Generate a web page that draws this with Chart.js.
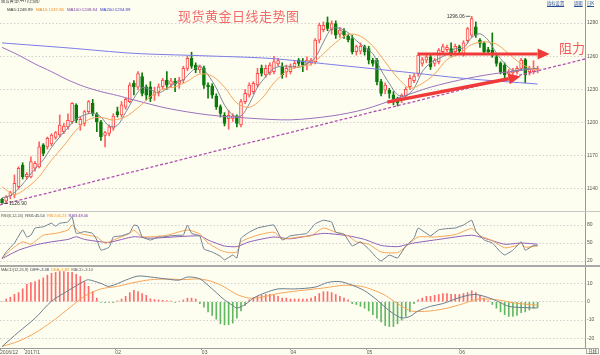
<!DOCTYPE html>
<html lang="zh-CN"><head><meta charset="utf-8">
<title>现货黄金日线走势图</title>
<script src="https://cdn.jsdelivr.net/npm/chart.js@4.4.1/dist/chart.umd.min.js"></script>
<style>
html,body{margin:0;padding:0;background:#fefef0;}
#wrap{position:relative;width:600px;height:355px;overflow:hidden;background:#fefef0;font-family:"Liberation Sans","Noto Sans CJK SC",sans-serif;}
#wrap canvas{position:absolute;left:0;}
.tx{position:absolute;white-space:nowrap;font-size:4.3px;line-height:5px;color:#444;}
.leg{position:absolute;white-space:nowrap;font-size:4.1px;line-height:5px;color:#444;letter-spacing:-0.1px;}
.leg span{margin-right:2.2px;}
.cjk{font-family:"Noto Sans CJK SC",sans-serif;}
.sep{position:absolute;left:0;width:600px;}
.lnk{position:absolute;white-space:nowrap;font-size:4.3px;line-height:5px;color:#2a4f9a;text-decoration:underline;font-family:"Noto Sans CJK SC",sans-serif;}
</style></head>
<body>
<div id="wrap">
  <canvas id="cMain" width="600" height="212" style="top:0;width:600px;height:212px"></canvas>
  <canvas id="cRsi" width="600" height="54" style="top:212px;width:600px;height:54px"></canvas>
  <canvas id="cMacd" width="600" height="89" style="top:266px;width:600px;height:89px"></canvas>

  <div class="sep" style="top:211px;height:1px;background:#c6c6c6"></div>
  <div class="sep" style="top:265px;height:2px;background:#a9a9a9"></div>

  <div class="tx cjk" style="left:1px;top:-2px;color:#333">现货黄金(447)(日线)</div>
  <div class="tx" style="left:7px;top:7px;color:#333">MA5:1248.99</div>
  <div class="tx" style="left:36px;top:7px;color:#f0891c">MA10:1247.86</div>
  <div class="tx" style="left:67px;top:7px;color:#7a3fa0">MA100:1248.84</div>
  <div class="tx" style="left:100px;top:7px;color:#3838c8">MA200:1234.89</div>

  <div class="lnk" style="left:547px;top:1px">指标设置</div>
  <div class="lnk" style="left:574px;top:1px">周期</div>
  <div class="lnk" style="left:587px;top:1px">日K</div>

  <div class="cjk" style="position:absolute;left:178px;top:8px;font-size:13px;line-height:15px;letter-spacing:0.5px;color:#f26a6a;white-space:nowrap">现货黄金日线走势图</div>
  <div class="cjk" style="position:absolute;left:559px;top:40px;font-size:13px;line-height:15px;color:#f25a5a;white-space:nowrap">阻力</div>

  <div class="leg" style="left:1px;top:213px"><span style="color:#555">RSI(6,12,24)</span><span style="color:#33405a">RSI1:45.54</span><span style="color:#f0951f">RSI2:45.23</span><span style="color:#7a40aa">RSI3:48.06</span></div>

  <div class="leg" style="left:1px;top:267px"><span style="color:#555">MACD(12,26,9)</span><span style="color:#33405a">DIFF:-3.38</span><span style="color:#f0951f">DEA:-1.83</span><span style="color:#666">MACD:-3.10</span></div>

  <div class="tx cjk" style="left:586px;top:348px;width:13px;height:6px;border:1px solid #aaa;box-sizing:border-box;text-align:center;line-height:5px;color:#444">日线</div>
</div>

<script>
// ---------- data ----------
const monthTickPos = [-0.5, 5.5, 27.5, 48.5, 70, 88.5, 111];
const monthTickLabels = ['2016/12', '2017/1', '02', '03', '04', '05', '06'];
const priceTicks = [1140, 1170, 1200, 1230, 1260, 1290];
const rsiTicks = [20, 50, 80];
const macdTicks = [-20, -10, 0, 10];

const opens = [1130.7,1129,1133.7,1134.6,1142.1,1161.7,1151.2,1151,1158.7,1160,
 1179.8,1178,1180.7,1186.7,1188.8,1191.8,1196,1200.8,1215.9,1198,
 1199.3,1209.9,1217.4,1207.8,1200.8,1188.5,1190.2,1195,1210,1207,
 1214,1219,1235.5,1232,1241.5,1232.4,1232.4,1224.9,1227.9,1232.4,
 1238.4,1234.8,1237.5,1235.5,1238.4,1249,1258,1252,1247.5,1249,
 1233.9,1233,1224,1214.4,1206.8,1203.5,1203.8,1205.9,1197.8,1218.9,
 1224.9,1228,1234,1249,1243,1245,1246,1253,1250.5,1245.9,
 1246,1250.5,1256.5,1255.9,1253.5,1254,1255,1274.6,1284,1290.3,
 1284,1289.6,1280,1283,1278,1276,1264,1264.5,1268.6,1267,
 1256.5,1256.5,1237,1229.4,1229.4,1225,1221.9,1220.4,1224,1232.4,
 1238,1244.5,1253.5,1256.5,1259.5,1253.5,1255,1264,1266,1267,
 1264,1268.6,1262,1274,1279,1286.6,1274.6,1271.6,1266,1265.6,
 1259.5,1253.5,1252,1244,1245,1246,1249,1257,1246,1246,
 1248];
const highs = [1131.5,1134,1138,1152.7,1160.1,1163.7,1155,1169,1165,1182.6,
 1181,1187,1190,1192,1206.9,1199,1208,1218,1217,1205,
 1211,1220,1221,1209,1202,1192,1198,1208,1214,1219,
 1222,1236,1238,1246,1245,1234,1237,1232,1235,1240,
 1246,1240,1240,1241,1251,1260,1263.6,1254,1252,1251,
 1236,1235,1226,1216,1209,1211,1208,1207,1221,1230,
 1236,1237,1249,1252,1252,1254,1260,1258,1254,1252,
 1253,1256,1258,1258,1259.5,1258,1276,1290,1291,1295.5,
 1292,1292,1286,1285,1280,1279,1270,1272,1270,1269,
 1258,1258,1239,1236,1231,1228,1223,1226,1232,1243,
 1244,1263,1259,1262,1262,1258,1267,1271,1270,1272,
 1271,1270,1274,1286,1296.06,1291,1276,1273,1268,1281,
 1262,1255,1254,1248,1249,1251,1258,1258,1251,1256,
 1251];
const lows = [1126.9,1127,1131,1132,1140,1149,1149,1150,1156,1159,
 1170,1176,1179,1185,1187,1190,1194,1199,1200,1193,
 1197,1208,1206,1191.8,1184,1178,1188,1193,1205,1205,
 1212,1218,1225,1230,1224,1220.4,1218.9,1220,1224,1230,
 1230,1232,1228,1231,1236,1247,1249,1245,1245,1231,
 1222,1222,1212,1205,1197,1194,1201,1196,1196,1217,
 1223,1226,1232,1242,1241,1243,1244,1251,1240,1241,
 1244,1249,1251,1246,1247.5,1252,1253,1272,1282,1283,
 1280,1276,1277,1276,1273,1262,1261,1262,1261,1253,
 1251,1234,1224,1226,1222,1216,1215,1218,1222,1230,
 1236,1242,1251,1254,1248,1251,1253,1262,1264,1260,
 1262,1263,1260,1272,1277,1277,1268,1262,1262,1259,
 1251,1244,1240,1241,1243,1244,1247,1236,1243,1244,
 1245];
const closes = [1127.7,1133,1136.7,1145.1,1158.7,1151.2,1153.3,1164.7,1163.2,1178.2,
 1172.2,1185.8,1188.8,1190.9,1197.8,1196.8,1202,1217.4,1202.3,1203,
 1209.9,1218.9,1208.4,1200.8,1187.3,1190.9,1196.2,1206,1207,1216,
 1221,1234,1232.2,1244.3,1226.4,1224.9,1221.9,1227.9,1232.4,1238.4,
 1233.9,1237.8,1234.8,1238.4,1249,1258,1251.1,1247.5,1250.5,1233.9,
 1232.4,1224.9,1214.4,1208.4,1199.3,1206.5,1205.9,1199.3,1218.9,1226.4,
 1234,1235.5,1244.5,1244.5,1249,1252,1255,1256,1243,1249,
 1250.5,1253.5,1253.5,1252,1256.5,1256.5,1274.6,1288.1,1288,1285.1,
 1289.6,1279.1,1283.6,1279.1,1275,1264,1268.6,1269,1264,1256.5,
 1253.5,1237,1226.4,1233.9,1226.4,1221,1218,1224.9,1230,1240,
 1242,1261,1257,1259.5,1250.5,1256.5,1265.6,1268.6,1268,1262.6,
 1269,1265,1272,1285,1294,1279.1,1271.6,1264,1264,1261,
 1253.5,1246,1243,1245.5,1247,1249,1256.5,1243,1249,1248,
 1249];

// moving averages read at sample candles: [candle index, value]
const ma5 = [[0,1132],[2,1134],[4,1140.2],[6,1149],[8,1158.2],[10,1166.3],[12,1177.6],[14,1187.1],[16,1195.3],[18,1203.3],[20,1206.9],[22,1208.5],[24,1205.1],[26,1196.7],[28,1197.5],[30,1209.2],[32,1222],[34,1231.6],[36,1229.9],[38,1226.7],[40,1230.9],[42,1235.5],[44,1238.8],[46,1246.3],[48,1251.2],[50,1243.1],[52,1231.2],[54,1215.9],[56,1206.9],[58,1206],[60,1216.9],[62,1231.9],[64,1241.5],[66,1249],[68,1251],[70,1250.7],[72,1249.9],[74,1253.2],[76,1258.6],[78,1272.7],[80,1285.1],[82,1285.1],[84,1281.3],[86,1274.1],[88,1268.1],[90,1262.3],[92,1247.5],[94,1235.4],[96,1225.1],[98,1224.1],[100,1231],[102,1246],[104,1254],[106,1257.8],[108,1261.8],[110,1266.8],[112,1267.3],[114,1277],[116,1280.3],[118,1274.5],[120,1262.8],[122,1253.5],[124,1247],[126,1248.2],[128,1248.9],[130,1248.99]];
const ma10 = [[0,1142],[3,1135],[6,1141],[9,1151.2],[12,1166.1],[15,1179.2],[18,1193.2],[21,1202.8],[24,1204.7],[27,1202.4],[30,1205.3],[33,1213.5],[36,1223.4],[39,1230.3],[42,1232.3],[45,1237.3],[48,1243.9],[51,1242.1],[54,1232],[57,1217.6],[60,1213.8],[63,1221.5],[66,1235.9],[69,1246.3],[72,1250.6],[75,1252.6],[78,1262.2],[81,1272.3],[84,1279.9],[87,1278.1],[90,1269.2],[93,1254.8],[96,1240.6],[99,1231.1],[102,1235.4],[105,1243.9],[108,1256.9],[111,1262.2],[114,1270.6],[117,1273],[120,1270.9],[123,1262.2],[126,1253],[129,1248.1],[130,1247.86]];
const ma100 = [[0,1268],[4,1261],[8,1253],[12,1246],[16,1238.5],[20,1232.5],[24,1228],[28,1224.5],[32,1220.5],[40,1213],[50,1207],[60,1204],[70,1202.5],[80,1206],[88,1212],[96,1222],[104,1232],[113,1240],[121,1245],[130,1248.84]];
const ma200 = [[0,1272],[16,1267.5],[32,1262.6],[48,1260.5],[65,1258],[80,1252.5],[97,1246],[112,1240],[130,1234.89]];

// drawn lines: support trend line and the two red arrows ([candle index, price])
const trendLine = [[-0.5,1125.6],[141.5,1257.5]];
const arrowResist = [[101,1262],[130,1262]];
const arrowSupport = [[93.5,1218.5],[123,1239.6]];
const markIdx = [114, 0];
const markVal = [1296.06, 1126.90];
const markText = ['1296.06', '1126.90'];

// RSI(6,12,24)
const rsi1 = [[0,24.5],[1,35],[3,50],[5,72],[6,60],[7,63],[8,75],[10,77],[12,83],[13,78],[14,83],[16,85],[17,94],[18,66],[20,69],[22,66],[23,55],[24,38],[26,43],[27,60],[29,62],[31,67],[32,80],[33,78],[34,60],[36,55],[38,60],[39,60],[41,62],[43,63],[44,63],[45,80],[46,66],[48,62],[49,40],[51,35],[53,28],[54,22],[56,30],[57,25],[58,58],[60,68],[62,75],[64,78],[66,80],[68,55],[70,62],[72,64],[74,66],[76,82],[78,88],[80,85],[81,68],[83,65],[85,45],[87,52],[89,40],[91,25],[92,20],[94,30],[96,25],[98,45],[100,58],[101,75],[104,62],[106,72],[108,74],[110,75],[112,80],[114,88],[115,70],[117,55],[119,50],[121,35],[122,30],[124,38],[126,52],[127,38],[129,46],[130,45.54]];
const rsi2 = [[0,24],[2,38],[5,52],[7,48],[10,63],[13,66],[16,71.7],[17,80],[19,66],[23,60],[25,49.5],[27,55],[31,66],[32,71.7],[34,60.5],[40,63],[45,71.7],[48,65],[50,50],[53,38],[55,34],[57,35],[58,52],[62,63],[66,68],[68,57],[72,60],[75,62],[78,75],[81,68],[84,62],[86,52],[89,48],[92,35],[96,34],[98,44],[101,60],[105,60],[110,64],[114,74],[116,62],[119,54],[122,42],[125,46],[126,50],[127,43],[130,45.23]];
const rsi3 = [[0,24],[4,38],[8,46.7],[12,52],[16,56],[18,60.5],[20,56],[24,52],[26,51],[32,60.5],[36,58],[48,62],[50,55],[54,45],[57,44],[60,52],[66,60],[70,57],[78,66],[84,62],[88,56],[92,46],[96,44],[100,50],[106,56],[114,63],[118,56],[122,48],[126,50],[130,48.06]];

// MACD(12,26,9)
const diff = [[0,-24.4],[4,-16.5],[8,-9],[12,0.3],[16,6],[20,11.3],[21,12],[24,10],[26,8.4],[30,11.8],[33,14],[36,13.5],[40,12.4],[43,11.8],[45,13.5],[48,12.5],[50,9],[52,5],[54,1],[56,-2],[57,-3.4],[59,-1.5],[61,2],[64,5],[67,7],[71,7],[76,8],[79,10.5],[82,11],[85,9],[88,6],[91,1],[93,-3],[95,-6.5],[97,-8.8],[99,-8],[101,-5],[104,-2.5],[107,-1],[110,1.5],[113,3.5],[115,4],[117,3],[119,1.5],[121,-0.5],[123,-2.5],[125,-3],[127,-3.2],[130,-3.38]];
const dea = [[0,-24.4],[4,-21.5],[8,-17],[12,-11],[16,-4],[20,3],[24,7],[28,8.4],[32,10.5],[36,12],[40,12.4],[44,12.1],[48,12.4],[51,11],[54,8],[57,4],[60,2],[63,2.5],[67,4.5],[72,6],[78,7.5],[83,9],[87,8.5],[90,6.5],[93,3.5],[96,-1],[99,-4.8],[101,-5.3],[104,-5],[108,-3.5],[112,-1],[115,1.2],[118,1.5],[121,0.8],[124,-0.5],[127,-1.3],[130,-1.83]];
const macdHist = [0,1.5,2.5,4,5,7,9.5,10.5,11,12,
 13,14.5,15.5,16,16.5,16.5,16,16,15,13.8,
 11,8.4,5.6,2,-0.3,-0.5,-0.3,-0.5,0.5,1.5,
 3,5,6.3,5.5,4.5,3.5,1.6,1.2,1,0.8,
 0.6,0.4,-0.3,0.3,1,2,2,1.5,-1,-3,
 -5.5,-7.5,-9.5,-12,-12.6,-12.5,-11.6,-9,-5,-2,
 1,2,3,3.5,4,4,3.5,3,2,2,
 1.5,1.5,1.5,1.5,1.5,2,3,4.5,5.5,5.5,
 5,4,3,2,1,-1,-1.5,-2.5,-3.5,-5,
 -7,-9,-11,-13,-13.5,-13.5,-12,-10,-8,-5.5,
 -1,1,2,3,3,3.5,4,4.5,4.5,4,
 4,4,4.5,5,6,5,3.5,2,0.5,-1.5,
 -3.5,-5.5,-7,-8,-8,-7.5,-6,-5.5,-4.5,-3.5,
 -3.1];

// ---------- chart construction ----------
const SLOTS = 142;
Chart.defaults.font.family = '"Liberation Sans","DejaVu Sans",sans-serif';
const toXY = arr => arr.map(p => ({x: p[0], y: p[1]}));
const idx = closes.map((_, i) => i);
const isUp = closes.map((c, i) => c >= opens[i]);

function lineDs(arr, color, order, extra) {
  return Object.assign({type: 'line', data: toXY(arr), borderColor: color, borderWidth: 1,
    pointRadius: 0, tension: 0.3, fill: false, order: order}, extra || {});
}
function xHidden() {
  return {type: 'linear', min: -0.5, max: SLOTS - 0.5, offset: false, display: false};
}
function yAxis(min, max, ticks) {
  return {
    position: 'right', min: min, max: max,
    afterBuildTicks: s => { s.ticks = ticks.map(v => ({value: v})); },
    afterFit: s => { s.width = 15; s.paddingTop = 0; s.paddingBottom = 0; },
    grid: {color: '#d2d2d2', lineWidth: 1, drawTicks: false},
    border: {display: true, color: '#9a9a9a', width: 1, dash: [1.5, 2]},
    ticks: {color: '#555', font: {size: 5}, padding: 2, autoSkip: false, callback: v => String(v)}
  };
}
const baseOpts = {responsive: false, animation: false, events: [], layout: {padding: 0},
  plugins: {legend: {display: false}, tooltip: {enabled: false}}};

const overlayPlugin = {
  id: 'overlay',
  afterDatasetsDraw(chart) {
    const ctx = chart.ctx;
    chart.data.datasets.forEach((ds, di) => {
      if (!ds.arrowHead) return;
      const pts = chart.getDatasetMeta(di).data;
      const a = pts[pts.length - 2], b = pts[pts.length - 1];
      const ang = Math.atan2(b.y - a.y, b.x - a.x);
      const L = 12, W = 5.5;
      ctx.save();
      ctx.fillStyle = ds.borderColor;
      ctx.beginPath();
      ctx.moveTo(b.x + L * Math.cos(ang), b.y + L * Math.sin(ang));
      ctx.lineTo(b.x - W * Math.sin(ang), b.y + W * Math.cos(ang));
      ctx.lineTo(b.x + W * Math.sin(ang), b.y - W * Math.cos(ang));
      ctx.closePath();
      ctx.fill();
      ctx.restore();
    });
    const xs = chart.scales.x, ys = chart.scales.y;
    const side = [-1, 1];
    ctx.save();
    ctx.font = '5px "Liberation Sans"';
    ctx.fillStyle = '#333';
    ctx.strokeStyle = '#444';
    ctx.lineWidth = 0.8;
    ctx.textBaseline = 'middle';
    markIdx.forEach((mi, k) => {
      const px = xs.getPixelForValue(mi), py = ys.getPixelForValue(markVal[k]);
      const d = side[k];
      ctx.beginPath();
      ctx.moveTo(px + d * 1.5, py);
      ctx.lineTo(px + d * 6, py);
      ctx.stroke();
      ctx.textAlign = d < 0 ? 'right' : 'left';
      ctx.fillText(markText[k], px + d * 7, py);
    });
    ctx.restore();
  }
};

new Chart(document.getElementById('cMain'), {
  type: 'bar',
  data: {datasets: [
    {type: 'bar', data: idx.map(i => ({x: i, y: [lows[i], highs[i]]})),
      backgroundColor: isUp.map(u => u ? '#ff6262' : '#0b7a0b'), borderWidth: 0,
      barThickness: 1, grouped: false, order: 6},
    {type: 'bar', data: idx.map(i => ({x: i, y: [opens[i], closes[i]]})),
      backgroundColor: isUp.map(u => u ? '#fff3ea' : '#0b7a0b'),
      borderColor: isUp.map(u => u ? '#ff4848' : '#0b7a0b'),
      borderWidth: 1, borderSkipped: false, barThickness: 3, grouped: false, order: 5},
    lineDs(ma200, '#7b7be8', 4),
    lineDs(ma100, '#9a70bd', 4),
    lineDs(ma10, '#f6a457', 3),
    lineDs(ma5, '#7c8896', 3),
    lineDs(trendLine, '#b24fb2', 2, {borderWidth: 1.3, borderDash: [3, 2], tension: 0}),
    lineDs(arrowResist, '#f03a3a', 1, {borderWidth: 3, tension: 0, arrowHead: true}),
    lineDs(arrowSupport, '#f03a3a', 1, {borderWidth: 3.5, tension: 0, arrowHead: true})
  ]},
  options: Object.assign({}, baseOpts, {scales: {x: xHidden(), y: yAxis(1119.2, 1310.8, priceTicks)}}),
  plugins: [overlayPlugin]
});

new Chart(document.getElementById('cRsi'), {
  type: 'line',
  data: {datasets: [
    lineDs(rsi3, '#8e5cb8', 3, {tension: 0.2}),
    lineDs(rsi2, '#f6a457', 2, {tension: 0.2}),
    lineDs(rsi1, '#6c7d8e', 1, {tension: 0.1})
  ]},
  options: Object.assign({}, baseOpts, {scales: {x: xHidden(), y: yAxis(11.7, 101.7, rsiTicks)}})
});

new Chart(document.getElementById('cMacd'), {
  type: 'bar',
  data: {datasets: [
    {type: 'bar', data: idx.map(i => ({x: i, y: macdHist[i]})),
      backgroundColor: macdHist.map(v => v >= 0 ? '#ff6a6a' : '#62b862'),
      barThickness: 1, grouped: false, order: 3},
    lineDs(dea, '#f6a457', 2),
    lineDs(diff, '#6c7d8e', 1)
  ]},
  options: Object.assign({}, baseOpts, {scales: {
    x: {type: 'linear', min: -0.5, max: SLOTS - 0.5, offset: false, position: 'bottom',
      afterBuildTicks: s => { s.ticks = monthTickPos.map(v => ({value: v})); },
      afterFit: s => { s.height = 7; s.paddingLeft = 0; s.paddingRight = 0; },
      grid: {drawOnChartArea: false, drawTicks: true, tickLength: 2, color: '#999', offset: false},
      border: {display: true, color: '#9a9a9a'},
      ticks: {autoSkip: false, maxRotation: 0, minRotation: 0, align: 'start', padding: 0,
        color: '#555', font: {size: 5}, callback: (v, i) => monthTickLabels[i]}},
    y: yAxis(-25.2, 19.5, macdTicks)
  }})
});
</script>
</body></html>
